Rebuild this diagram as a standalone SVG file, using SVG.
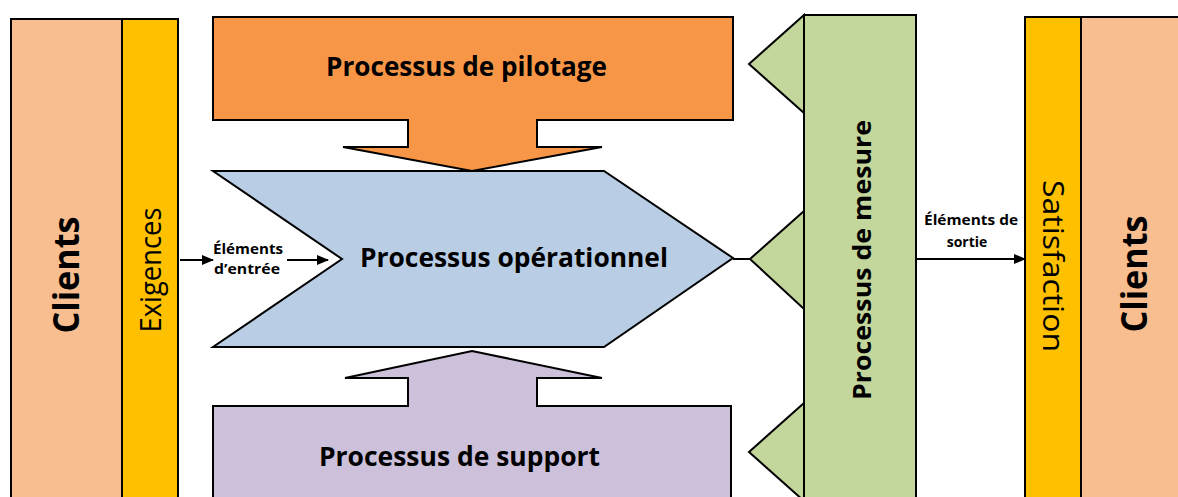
<svg xmlns="http://www.w3.org/2000/svg" width="1178" height="497" viewBox="0 0 1178 497">
<style>
.s{stroke:#000;stroke-width:2;stroke-linejoin:miter}
.t{font-family:"Open Sans","Liberation Sans",sans-serif;fill:#000;text-anchor:middle}
.b{font-weight:bold}
.client{fill:#F8BE8F}
.ex{fill:#FFC000}
.lbl{font-size:14px;font-weight:bold}
</style>
<defs>
<marker id="ah" markerWidth="12" markerHeight="10" refX="11" refY="5" orient="auto" markerUnits="userSpaceOnUse">
<path d="M0,0 L12,5 L0,10 Z" fill="#000"/>
</marker>
</defs>
<rect width="1178" height="497" fill="#fff"/>

<g id="clients-left">
<rect class="s client" x="11" y="19" width="111" height="490"/>
<text class="t b" transform="translate(79,275) rotate(-90)" font-size="36" textLength="117" lengthAdjust="spacingAndGlyphs">Clients</text>
</g>
<g id="exigences">
<rect class="s ex" x="122" y="19" width="56" height="490"/>
<text class="t" transform="translate(161,270) rotate(-90)" font-size="29" textLength="125" lengthAdjust="spacingAndGlyphs">Exigences</text>
</g>

<g id="pilotage">
<path class="s" fill="#F79646" d="M213,17 L733,17 L733,120 L537,120 L537,147 L602,147 L472,171 L343,147 L408,147 L408,120 L213,120 Z"/>
<text class="t b" x="466.5" y="76" font-size="26" textLength="281" lengthAdjust="spacingAndGlyphs">Processus de pilotage</text>
</g>

<g id="operationnel">
<path class="s" fill="#B9CDE5" d="M213,171 L604,171 L733,258 L604,347 L213,347 L342,259 Z"/>
<text class="t b" x="514" y="267" font-size="27" textLength="308" lengthAdjust="spacingAndGlyphs">Processus opérationnel</text>
</g>

<g id="support">
<path class="s" fill="#CCC0DA" d="M213,406 L408,406 L408,378 L345,378 L472,351 L602,378 L537,378 L537,406 L731,406 L731,510 L213,510 Z"/>
<text class="t b" x="459.5" y="466" font-size="26" textLength="281" lengthAdjust="spacingAndGlyphs">Processus de support</text>
</g>

<g id="mesure">
<path class="s" fill="#C3D69B" d="M804,15 L804,113 L749,64 Z"/>
<path class="s" fill="#C3D69B" d="M804,211 L804,309 L750,259 Z"/>
<path class="s" fill="#C3D69B" d="M804,403 L804,501 L749,452 Z"/>
<rect class="s" fill="#C3D69B" x="804" y="15" width="112" height="495"/>
<text class="t b" transform="translate(871,260) rotate(-90)" font-size="25" textLength="280" lengthAdjust="spacingAndGlyphs">Processus de mesure</text>
</g>

<g id="satisfaction">
<rect class="s ex" x="1025" y="17" width="56" height="492"/>
<text class="t" transform="translate(1043,266) rotate(90)" font-size="29" textLength="172" lengthAdjust="spacingAndGlyphs">Satisfaction</text>
</g>
<g id="clients-right">
<rect class="s client" x="1081" y="17" width="110" height="492"/>
<text class="t b" transform="translate(1147,274) rotate(-90)" font-size="36" textLength="117" lengthAdjust="spacingAndGlyphs">Clients</text>
</g>

<g id="connectors">
<line class="s" x1="180" y1="260" x2="213" y2="260" marker-end="url(#ah)"/>
<line class="s" x1="287" y1="260" x2="328" y2="260" marker-end="url(#ah)"/>
<line class="s" x1="733" y1="259" x2="750" y2="259"/>
<line class="s" x1="916" y1="259" x2="1025" y2="259" marker-end="url(#ah)"/>
<text class="t lbl" x="248" y="254" textLength="70" lengthAdjust="spacingAndGlyphs">Éléments</text>
<text class="t lbl" x="247" y="274" textLength="66" lengthAdjust="spacingAndGlyphs">d’entrée</text>
<text class="t lbl" x="971" y="225" textLength="94" lengthAdjust="spacingAndGlyphs">Éléments de</text>
<text class="t lbl" x="967" y="247">sortie</text>
</g>
</svg>
